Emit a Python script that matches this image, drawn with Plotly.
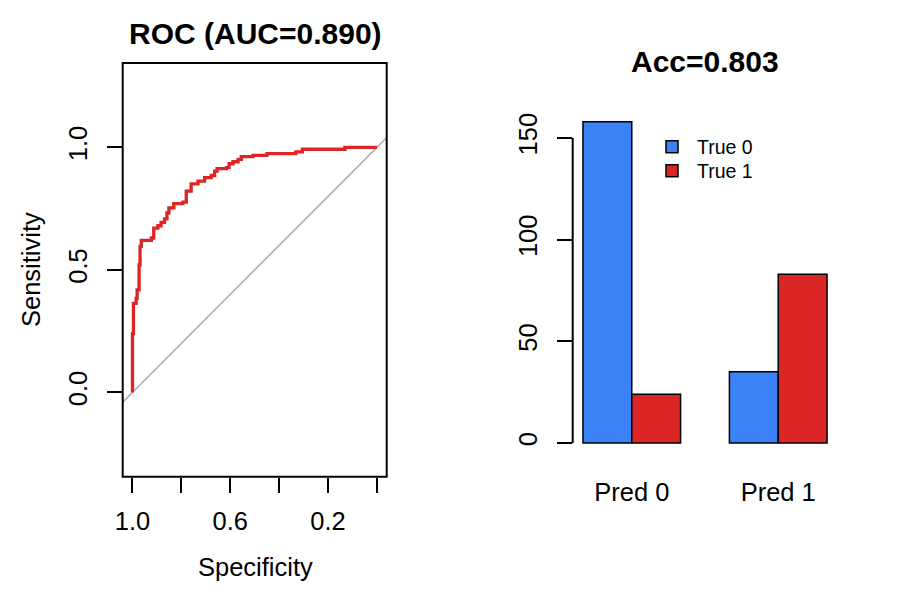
import plotly.graph_objects as go

W, H = 900, 600

# ---------------- data ----------------
roc_fpr = [0, 0, 0.004, 0.015, 0.019, 0.027, 0.031, 0.036, 0.07, 0.077, 0.087,
           0.104, 0.117, 0.131, 0.141, 0.149, 0.169, 0.206, 0.22, 0.24, 0.268,
           0.295, 0.322, 0.336, 0.346, 0.384, 0.395, 0.411, 0.432, 0.445, 0.493,
           0.55, 0.668, 0.695, 0.869, 1.0]
roc_tpr = [0, 0.24, 0.363, 0.384, 0.418, 0.52, 0.596, 0.62, 0.62, 0.63, 0.67,
           0.68, 0.694, 0.708, 0.732, 0.753, 0.770, 0.776, 0.821, 0.851, 0.862,
           0.876, 0.885, 0.903, 0.913, 0.917, 0.933, 0.941, 0.951, 0.962, 0.967,
           0.974, 0.981, 0.992, 1.0, 1.0]
roc_spec = [1 - f for f in roc_fpr]

roc_title = "ROC (AUC=0.890)"
acc_title = "Acc=0.803"

spec_ticks = [1.0, 0.8, 0.6, 0.4, 0.2, 0.0]
spec_ticklabels = ["1.0", "", "0.6", "", "0.2", ""]
sens_ticks = [0.0, 0.5, 1.0]
sens_ticklabels = ["0.0", "0.5", "1.0"]

categories = ["Pred 0", "Pred 1"]
true0 = [158, 35]
true1 = [24, 83]
count_ticks = [0, 50, 100, 150]

# ---------------- helpers ----------------
def pxx(p):
    return p / W

def pxy(p):
    return 1 - p / H

FONT = "Liberation Sans, Arial, Helvetica, sans-serif"
BLUE = "#3b82f6"
RED = "#dc2626"
FS = 25.5

# bar positions (R barplot beside=TRUE layout)
x_true0 = [1 + 3 * i + 0.5 for i in range(len(categories))]
x_true1 = [1 + 3 * i + 1.5 for i in range(len(categories))]
x_groups = [1 + 3 * i + 1.0 for i in range(len(categories))]

fig = go.Figure()

fig.add_trace(go.Scatter(x=[1.04, -0.04], y=[-0.04, 1.04], mode="lines",
                         line=dict(color="#a9a9a9", width=1.5),
                         showlegend=False, hoverinfo="skip",
                         xaxis="x", yaxis="y"))
fig.add_trace(go.Scatter(x=roc_spec, y=roc_tpr, mode="lines",
                         line=dict(color=RED, width=3.3, shape="hv"),
                         showlegend=False, xaxis="x", yaxis="y"))

fig.add_trace(go.Bar(x=x_true0, y=true0, width=1, name="True 0", legend="legend",
                     marker=dict(color=BLUE, line=dict(color="black", width=1.5)),
                     xaxis="x2", yaxis="y2"))
fig.add_trace(go.Bar(x=x_true1, y=true1, width=1, name="True 1", legend="legend2",
                     marker=dict(color=RED, line=dict(color="black", width=1.5)),
                     xaxis="x2", yaxis="y2"))

axis_common = dict(showgrid=False, zeroline=False, showline=False, automargin=False,
                   ticks="outside", ticklen=15, tickwidth=2, tickcolor="black",
                   tickfont=dict(size=FS, color="black", family=FONT))

legend_common = dict(xanchor="left", yanchor="middle", itemwidth=40,
                     font=dict(size=19.5, color="black", family=FONT),
                     bgcolor="rgba(0,0,0,0)", borderwidth=0)

fig.update_layout(
    width=W, height=H,
    margin=dict(l=0, r=0, t=0, b=0, pad=0, autoexpand=False),
    paper_bgcolor="white", plot_bgcolor="white",
    font=dict(family=FONT, color="black"),
    barmode="overlay",
    xaxis=dict(domain=[pxx(122.7), pxx(386.7)], range=[1.04, -0.04],
               tickmode="array", tickvals=spec_ticks, ticktext=spec_ticklabels,
               anchor="y", ticklabelstandoff=7, **axis_common),
    yaxis=dict(domain=[pxy(476.7), pxy(63)], range=[-0.344, 1.344],
               tickmode="array", tickvals=sens_ticks, ticktext=sens_ticklabels,
               tickangle=-90, anchor="x", ticklabelstandoff=10, **axis_common),
    xaxis2=dict(domain=[pxx(573.2), pxx(836.8)], range=[0.8, 6.2],
                tickmode="array", tickvals=x_groups, ticktext=categories,
                anchor="y2", showgrid=False, zeroline=False, showline=False,
                automargin=False, ticks="", ticklabelstandoff=19,
                tickfont=dict(size=FS, color="black", family=FONT)),
    yaxis2=dict(domain=[pxy(455.9), pxy(108.8)], range=[-6.32, 164.32],
                tickmode="array", tickvals=count_ticks,
                tickangle=-90, anchor="x2", ticklabelstandoff=10, **axis_common),
    legend=dict(x=pxx(647), y=pxy(147), **legend_common),
    legend2=dict(x=pxx(647), y=pxy(171), **legend_common),
    shapes=[
        dict(type="rect", xref="paper", yref="paper",
             x0=pxx(122.7), x1=pxx(386.7), y0=pxy(476.7), y1=pxy(63),
             line=dict(color="black", width=2)),
        dict(type="line", xref="paper", yref="y2",
             x0=pxx(572.7), x1=pxx(572.7), y0=count_ticks[0], y1=count_ticks[-1],
             line=dict(color="black", width=2)),
    ],
    annotations=[
        dict(text=roc_title, xref="paper", yref="paper", x=pxx(255), y=pxy(33),
             xanchor="center", yanchor="middle", showarrow=False,
             font=dict(size=30, weight="bold", color="black", family=FONT)),
        dict(text=acc_title, xref="paper", yref="paper", x=pxx(705), y=pxy(61),
             xanchor="center", yanchor="middle", showarrow=False,
             font=dict(size=30, weight="bold", color="black", family=FONT)),
        dict(text="Specificity", xref="paper", yref="paper", x=pxx(255), y=pxy(567),
             xanchor="center", yanchor="middle", showarrow=False,
             font=dict(size=FS, color="black", family=FONT)),
        dict(text="Sensitivity", xref="paper", yref="paper", x=pxx(31), y=pxy(270),
             xanchor="center", yanchor="middle", showarrow=False, textangle=-90,
             font=dict(size=FS, color="black", family=FONT)),
    ],
)

fig.write_html("out.html")
